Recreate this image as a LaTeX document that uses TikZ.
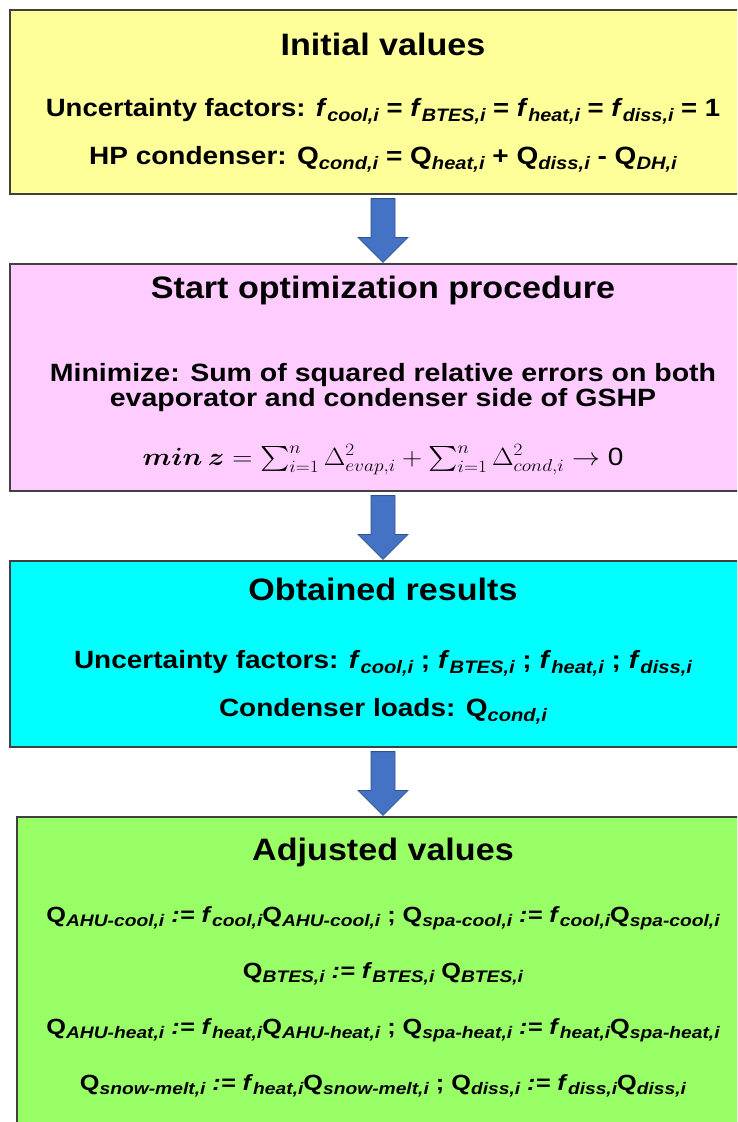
\documentclass[tikz,border=0pt]{standalone}
\usepackage{amsmath}
\usepackage{graphicx}
\usepackage{fontspec}
\setmainfont{Liberation Sans}
\usetikzlibrary{calc}
\definecolor{ylw}{HTML}{FFFF99}
\definecolor{pnk}{HTML}{FFCCFF}
\definecolor{cyn}{HTML}{00FFFF}
\definecolor{grn}{HTML}{99FF66}
\definecolor{bordc}{HTML}{404040}
\definecolor{arrfill}{HTML}{4472C4}
\definecolor{arrline}{HTML}{2F528F}
\makeatletter
\def\subr{0.72}
\newcommand{\sbs}[1]{\raisebox{-0.22em}{\fontsize{\fpeval{\subr*\f@size}}{1}\selectfont\itshape #1}}
\makeatother
\newcommand{\fsub}[1]{\textit{f}\sbs{#1}}
\newcommand{\Qsub}[1]{Q\sbs{#1}}
\newcommand{\hsc}[2]{\scalebox{#1}[1]{#2}}
\newcommand{\blockarrow}[2]{%
  \draw[blockarr] ($(#1.south)+(-12,4)$) -- ($(#2.north)+(-12,-26)$) -- ($(#2.north)+(-25,-26)$)
    -- ($(#2.north)+(0,-1)$) -- ($(#2.north)+(25,-26)$) -- ($(#2.north)+(12,-26)$)
    -- ($(#1.south)+(12,4)$) -- cycle;}
\begin{document}
\begin{tikzpicture}[x=1pt,y=-1pt,
  box/.style={draw=bordc, line width=1.2pt, inner sep=0pt},
  blockarr/.style={fill=arrfill, draw=arrline, line width=0.8pt, line join=miter},
  ttl/.style={anchor=base, inner sep=0pt, font=\bfseries\fontsize{31}{34}\selectfont},
  txt/.style={anchor=base, inner sep=0pt, font=\bfseries\fontsize{25}{28}\selectfont},
  gtxt/.style={anchor=base, inner sep=0pt, font=\bfseries\fontsize{22}{24}\selectfont\def\subr{0.76}}]
\useasboundingbox (0,0) rectangle (737,1122);
\begin{scope}
\clip (0,0) rectangle (737,1122);
\node[box, fill=ylw, minimum width=746pt, minimum height=184pt] (b1) at (383,102) {};
\node[box, fill=pnk, minimum width=746pt, minimum height=227pt] (b2) at (383,377.5) {};
\node[box, fill=cyn, minimum width=746pt, minimum height=186pt] (b3) at (383,654) {};
\node[box, fill=grn, minimum width=732pt, minimum height=340pt] (b4) at (383,987) {};
\end{scope}
\blockarrow{b1}{b2}
\blockarrow{b2}{b3}
\blockarrow{b3}{b4}
% box 1
\node[ttl] (t1) at (383,55) {\hsc{1.1}{Initial values}};
\node[txt] (l11) at (383,116) {\hsc{1.1}{Uncertainty factors: \fsub{cool,i} = \fsub{BTES,i} = \fsub{heat,i} = \fsub{diss,i} = 1}};
\node[txt] (l12) at (383,164) {\hsc{1.12}{HP condenser: \Qsub{cond,i} = \Qsub{heat,i} + \Qsub{diss,i} - \Qsub{DH,i}}};
% box 2
\node[ttl] (t2) at (383,298) {\hsc{1.1}{Start optimization procedure}};
\node[txt] (l21) at (383,381) {\hsc{1.14}{Minimize: Sum of squared relative errors on both}};
\node[txt] (l22) at (383,406) {\hsc{1.14}{evaporator and condenser side of GSHP}};
\node[txt] (l23) at (383,465) {\hsc{1.12}{$\boldsymbol{min\,z} = \sum_{i=1}^{n}\Delta^{2}_{evap,i}+\sum_{i=1}^{n}\Delta^{2}_{cond,i}\rightarrow$ {\mdseries 0}}};
% box 3
\node[ttl] (t3) at (383,600) {\hsc{1.1}{Obtained results}};
\node[txt] (l31) at (383,668) {\hsc{1.12}{Uncertainty factors: \fsub{cool,i} ; \fsub{BTES,i} ; \fsub{heat,i} ; \fsub{diss,i}}};
\node[txt] (l32) at (383,716) {\hsc{1.12}{Condenser loads: \Qsub{cond,i}}};
% box 4
\node[ttl] (t4) at (383,860) {\hsc{1.1}{Adjusted values}};
\node[gtxt] (l41) at (383,922) {\hsc{1.15}{\Qsub{AHU-cool,i} \textit{:=} \fsub{cool,i}\Qsub{AHU-cool,i} ; \Qsub{spa-cool,i} \textit{:=} \fsub{cool,i}\Qsub{spa-cool,i}}};
\node[gtxt] (l42) at (383,978) {\hsc{1.15}{\Qsub{BTES,i} \textit{:=} \fsub{BTES,i} \Qsub{BTES,i}}};
\node[gtxt] (l43) at (383,1034) {\hsc{1.15}{\Qsub{AHU-heat,i} \textit{:=} \fsub{heat,i}\Qsub{AHU-heat,i} ; \Qsub{spa-heat,i} \textit{:=} \fsub{heat,i}\Qsub{spa-heat,i}}};
\node[gtxt] (l44) at (383,1090) {\hsc{1.15}{\Qsub{snow-melt,i} \textit{:=} \fsub{heat,i}\Qsub{snow-melt,i} ; \Qsub{diss,i} \textit{:=} \fsub{diss,i}\Qsub{diss,i}}};
\end{tikzpicture}
\end{document}
